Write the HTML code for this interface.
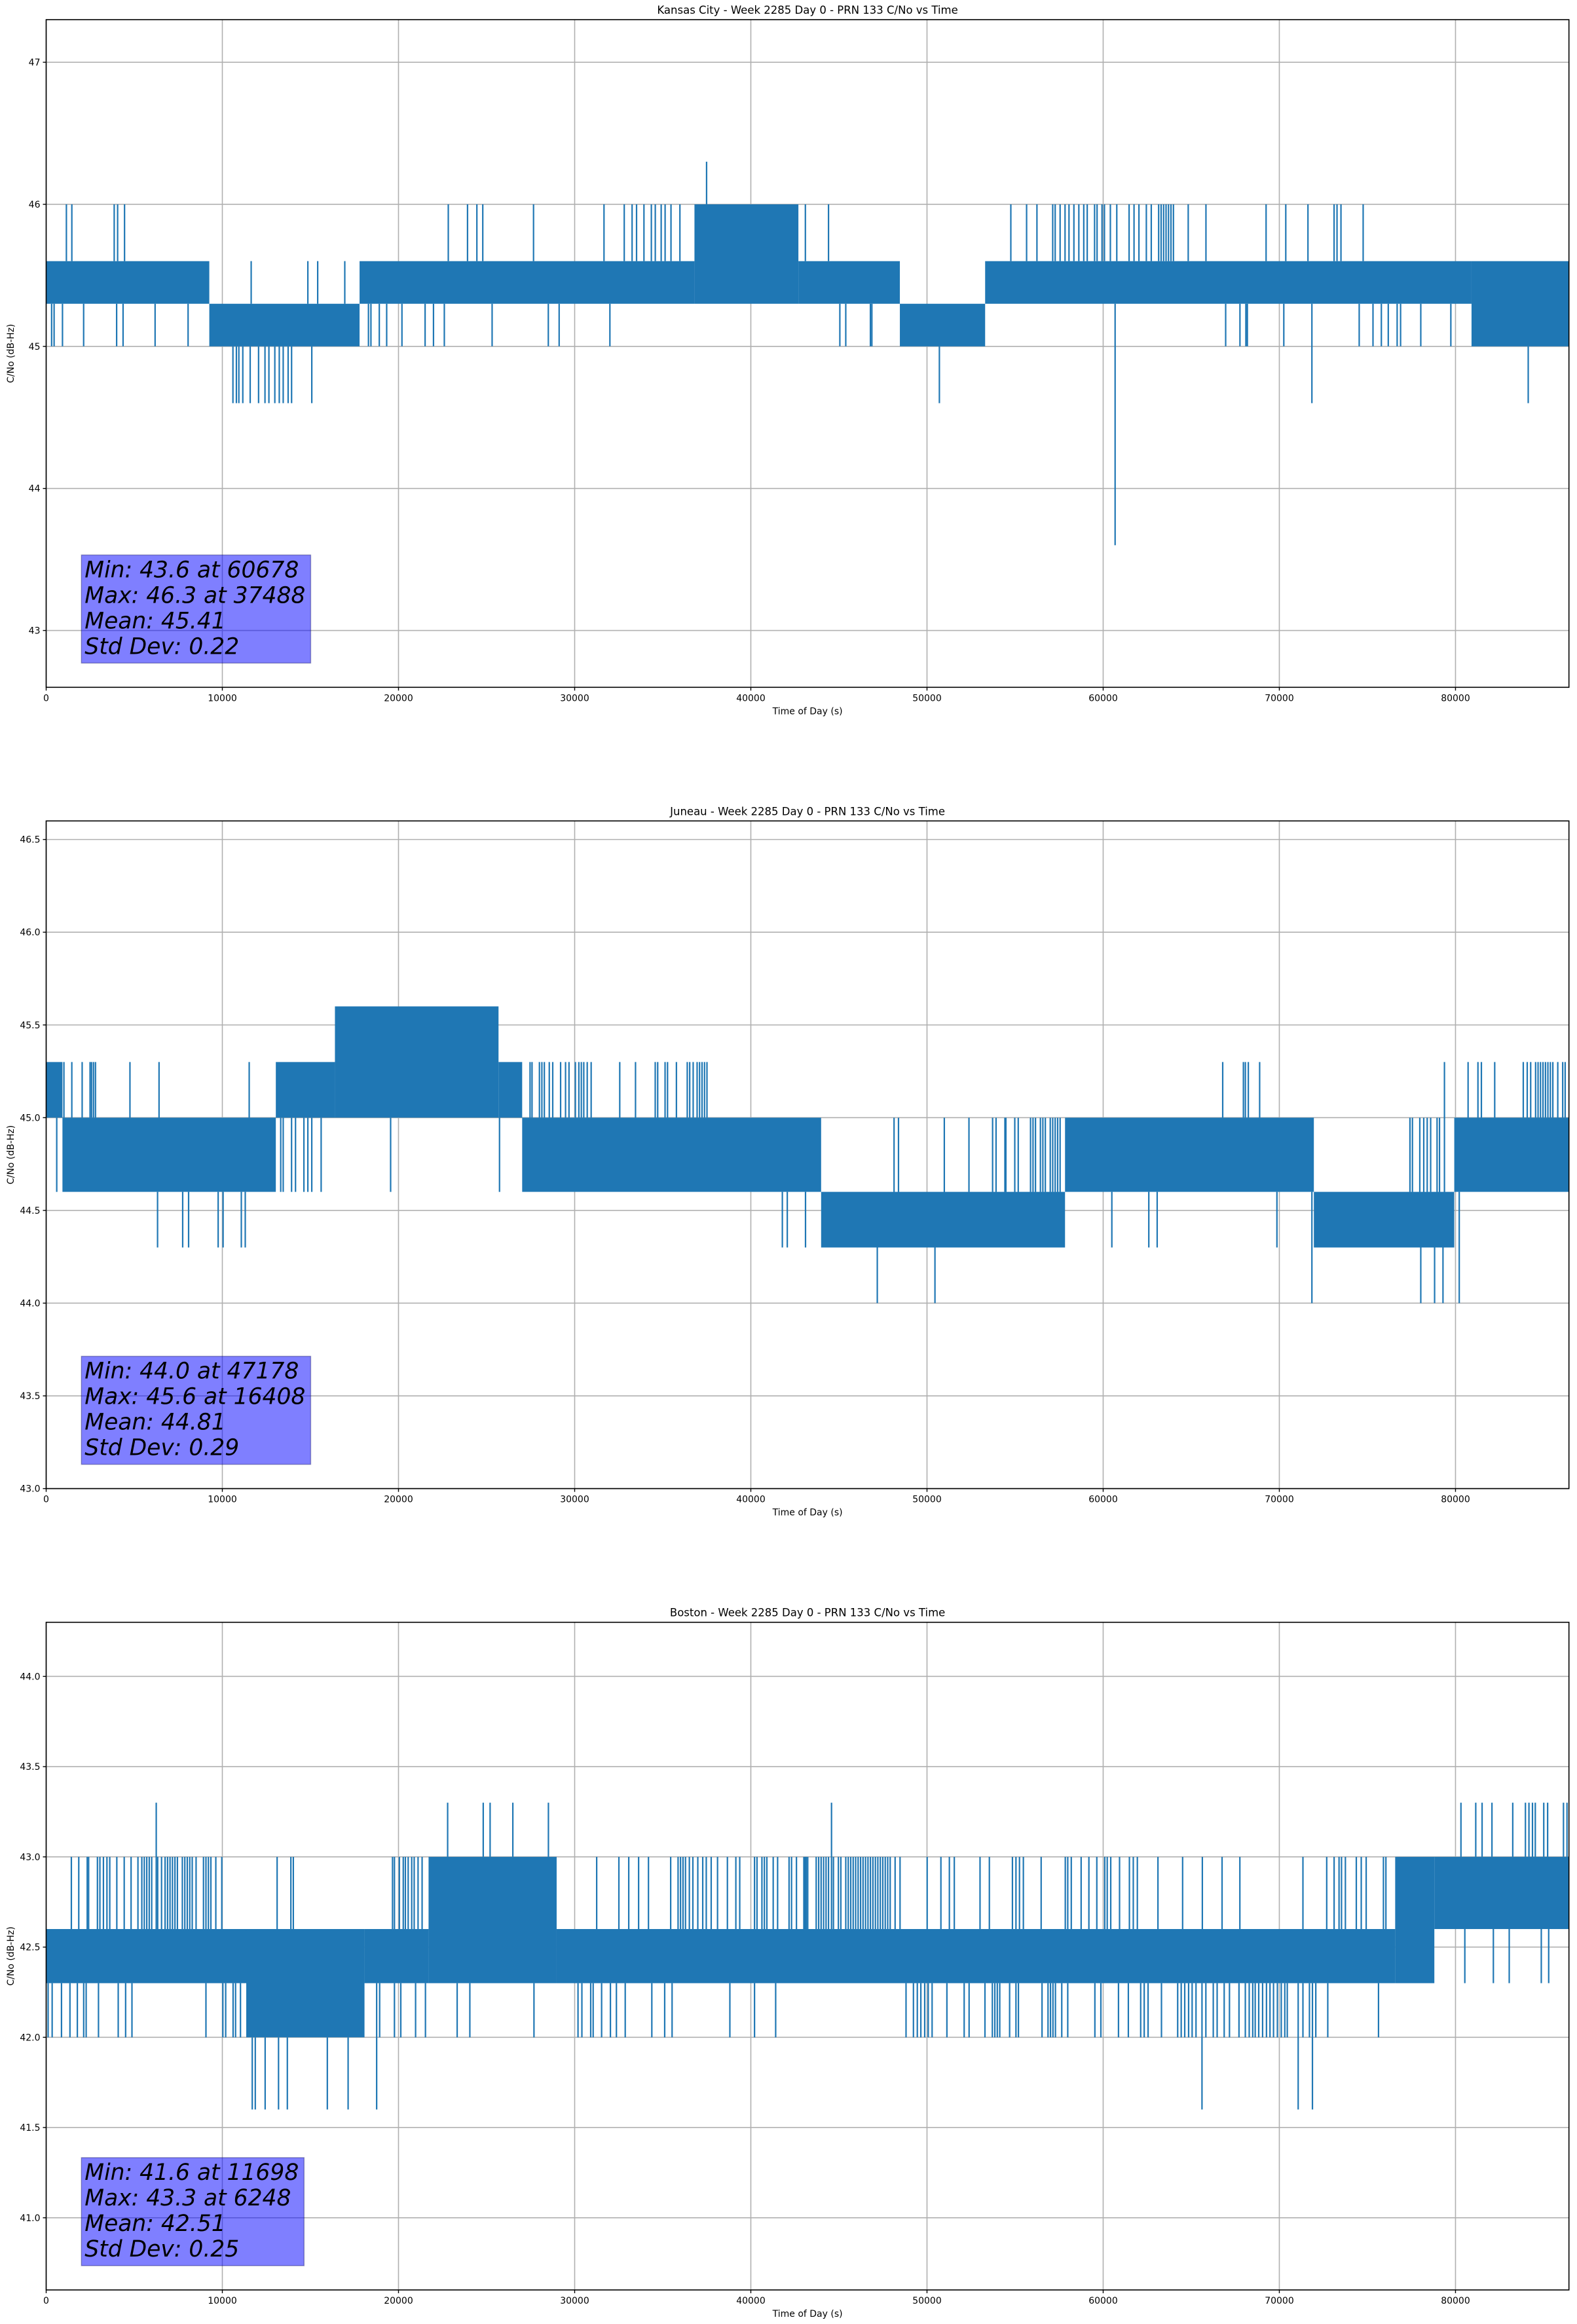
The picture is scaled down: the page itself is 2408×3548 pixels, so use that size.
<!DOCTYPE html>
<html><head><meta charset="utf-8">
<style>
html,body{margin:0;padding:0;background:#fff;}
svg{display:block;}
text{font-family:"DejaVu Sans","Liberation Sans",sans-serif;}
</style></head>
<body>
<svg id="fig" width="2408" height="3548" viewBox="0 0 2408 3548" xmlns="http://www.w3.org/2000/svg"></svg>
<script>
// ---------- shared x data ----------
const xTicks = [0,10000,20000,30000,40000,50000,60000,70000,80000];
const xMax = 86440;

// ---------- Kansas City ----------
const kcTitle = "Kansas City - Week 2285 Day 0 - PRN 133 C/No vs Time";
const kcYLim = [42.6, 47.3];
const kcYTicks = [43,44,45,46,47];
const kcYLabels = ["43","44","45","46","47"];
const kcSegStart = [0,9260,17790,36800,42700,48460,53300,80910];
const kcSegEnd   = [9260,17790,36800,42700,48460,53300,80910,86440];
const kcSegLow   = [45.3,45.0,45.3,45.3,45.3,45.0,45.3,45.0];
const kcSegHigh  = [45.6,45.3,45.6,46.0,45.6,45.3,45.6,45.6];
const kcSpikeT = [1148,1457,3862,4056,4449,22826,23918,24449,24784,27665,31665,32814,33260,33513,33933,34353,34576,34911,35134,35468,35974,37488,
 309,450,926,2127,4000,4365,6183,8056,
 10602,10798,10938,11162,11581,12057,12421,12644,12980,13232,13455,13735,13931,15078,
 11637,14854,15413,16951,
 18295,18435,18910,19329,20196,21510,21986,22601,25314,28504,29119,32000,
 43096,44410,54759,55654,56241,57137,57276,57556,57836,58060,58339,58619,58899,59095,59514,59654,59934,60073,60409,60773,61472,61752,62031,62451,62731,63150,63290,63430,63570,63710,63849,63989,64828,65835,69248,70366,71625,73108,73275,73499,74758,
 45053,45389,46788,46871,66954,67765,68101,68185,70254,74534,75317,75792,76184,76688,76883,78030,79736,
 50703,60678,71849,84128];
const kcSpikeV = [46,46,46,46,46,46,46,46,46,46,46,46,46,46,46,46,46,46,46,46,46,46.3,
 45,45,45,45,45,45,45,45,
 44.6,44.6,44.6,44.6,44.6,44.6,44.6,44.6,44.6,44.6,44.6,44.6,44.6,44.6,
 45.6,45.6,45.6,45.6,
 45,45,45,45,45,45,45,45,45,45,45,45,
 46,46,46,46,46,46,46,46,46,46,46,46,46,46,46,46,46,46,46,46,46,46,46,46,46,46,46,46,46,46,46,46,46,46,46,46,46,46,46,46,46,
 45,45,45,45,45,45,45,45,45,45,45,45,45,45,45,45,45,
 44.6,43.6,44.6,44.6];
const kcStats = ["Min: 43.6 at 60678","Max: 46.3 at 37488","Mean: 45.41","Std Dev: 0.22"];

// ---------- Juneau ----------
const juTitle = "Juneau - Week 2285 Day 0 - PRN 133 C/No vs Time";
const juYLim = [43.0, 46.6];
const juYTicks = [43.0,43.5,44.0,44.5,45.0,45.5,46.0,46.5];
const juYLabels = ["43.0","43.5","44.0","44.5","45.0","45.5","46.0","46.5"];
const juSegStart = [0,924,13036,16392,25678,27020,43990,57835,71960,79930];
const juSegEnd   = [924,13036,16392,25678,27020,43990,57835,71960,79930,86440];
const juSegLow   = [45.0,44.6,45.0,45.0,45.0,44.6,44.3,44.6,44.3,44.6];
const juSegHigh  = [45.3,45.0,45.3,45.6,45.3,45.0,44.6,45.0,44.6,45.0];
const juSpikeT = [1008,1456,2043,2491,2575,2687,2799,4756,6407,11525,27468,27580,28000,28139,28279,28559,28755,29202,29482,29678,30041,30237,30377,30517,30713,30936,32559,33454,34573,34713,35132,35272,35776,36391,36531,36727,36951,37090,37230,37370,37510,
 79373,80715,81275,81470,82226,83848,84072,84268,84547,84687,84827,84967,85107,85246,85386,85526,85806,86085,86225,66786,67960,68072,68240,68883,
 48130,48382,50983,52382,53724,53920,54423,54479,54983,55179,55878,56018,56158,56438,56577,56717,56997,57137,57276,57416,57556,77415,77555,77974,78198,78394,78590,78954,79093,
 47178,50452,71849,78030,78814,79290,80213,
 6323,7749,8085,9763,10043,11078,11301,41789,42069,43104,60493,62591,63066,69864,
 13315,13455,13930,14154,14630,14854,15077,15609,19553,25734, 600];
const juSpikeV = [45.3,45.3,45.3,45.3,45.3,45.3,45.3,45.3,45.3,45.3,45.3,45.3,45.3,45.3,45.3,45.3,45.3,45.3,45.3,45.3,45.3,45.3,45.3,45.3,45.3,45.3,45.3,45.3,45.3,45.3,45.3,45.3,45.3,45.3,45.3,45.3,45.3,45.3,45.3,45.3,45.3,
 45.3,45.3,45.3,45.3,45.3,45.3,45.3,45.3,45.3,45.3,45.3,45.3,45.3,45.3,45.3,45.3,45.3,45.3,45.3,45.3,45.3,45.3,45.3,45.3,
 45,45,45,45,45,45,45,45,45,45,45,45,45,45,45,45,45,45,45,45,45,45,45,45,45,45,45,45,45,
 44,44,44,44,44,44,44,
 44.3,44.3,44.3,44.3,44.3,44.3,44.3,44.3,44.3,44.3,44.3,44.3,44.3,44.3,
 44.6,44.6,44.6,44.6,44.6,44.6,44.6,44.6,44.6,44.6, 44.6];
const juStats = ["Min: 44.0 at 47178","Max: 45.6 at 16408","Mean: 44.81","Std Dev: 0.29"];

// ---------- Boston ----------
const boTitle = "Boston - Week 2285 Day 0 - PRN 133 C/No vs Time";
const boYLim = [40.6, 44.3];
const boYTicks = [41.0,41.5,42.0,42.5,43.0,43.5,44.0];
const boYLabels = ["41.0","41.5","42.0","42.5","43.0","43.5","44.0"];
const boSegStart = [0,11357,18070,21707,28977,76576,78800];
const boSegEnd   = [11357,18070,21707,28977,76576,78800,86440];
const boSegLow   = [42.3,42.0,42.3,42.3,42.3,42.3,42.6];
const boSegHigh  = [42.6,42.6,42.6,43.0,42.6,43.0,43.0];
// spike times grouped by spike level
const boSpike430T = [1430,1850,2330,2410,2910,3050,3250,3450,3610,4010,4430,4820,5210,5430,5570,5710,5850,5990,6330,6550,6750,6890,7030,7170,7310,7450,7730,7870,8010,8150,8290,8510,8930,9070,9210,9350,9630,9970,13110,13890,14030,19660,19770,20050,20270,20390,20550,20750,20890,21110,21340,31250,32510,33070,33630,34190,35450,35870,36010,36150,36290,36510,36710,36990,37270,37470,37750,38110,38670,39150,39370,40210,40350,40630,40770,40910,41270,41520,42170,42310,42590,43090,43230,
 43010,43150,43710,43850,43990,44130,44270,44410,44690,44970,45110,45390,45530,45670,45810,45950,46090,46230,46370,46510,46650,46790,46930,47070,47210,47350,47490,47630,47770,47910,48190,48470,50010,50790,51270,51550,53010,53540,54850,55050,55250,55470,56480,57850,57990,58190,58750,59190,59640,60090,60230,60430,60930,61490,61710,61940,63110,64510,65630,66750,67760,71340,72690,73110,73390,73530,73750,74370,74650,74930,75910,76050];
const boSpike433T = [6248,22790,24810,25200,26490,28510,44580,80310,81150,81510,82070,83250,83970,84170,84370,84530,85010,85230,86130,86330];
const boSpike420T = [110,340,870,1350,1770,2130,2270,2970,4090,4510,4870,9070,10030,10190,10610,10750,11030,18930,19770,20130,20970,21530,23330,24050,27690,30190,30410,30910,31050,31530,32030,32370,32870,34380,35110,35530,38810,40210,41410,
 48810,49230,49450,49650,49870,50070,50290,51130,52110,52390,53290,53710,53850,53990,54130,54690,55050,55190,56530,56870,57010,57150,57290,57650,57990,59530,59870,60870,61430,62130,62330,62550,63310,64230,64430,64630,64850,65050,65270,65830,66250,66470,66870,67170,67710,68070,68290,68490,68630,68830,69050,69270,69470,69670,69890,70110,70310,70450,71340,71710,72070,72750,75630];
const boSpike416T = [11698,11870,12430,13190,13690,15960,17140,18760,65610,71070,71880];
const boSpike423T = [80530,82150,83050,84870,85290];
const boSpikeLevels = [43.0,43.3,42.0,41.6,42.3];
const boStats = ["Min: 41.6 at 11698","Max: 43.3 at 6248","Mean: 42.51","Std Dev: 0.25"];

const boGroups = [boSpike430T, boSpike433T, boSpike420T, boSpike416T, boSpike423T];
const boSpikeT = [], boSpikeV = [];
boGroups.forEach((arr, gi) => { arr.forEach(t => { boSpikeT.push(t); boSpikeV.push(boSpikeLevels[gi]); }); });

// ---------- layout ----------
const NS = "http://www.w3.org/2000/svg";
const svg = document.getElementById('fig');
const L = 70.5, R = 2395.7, H = 1019.3;
const tops = [30, 1253.3, 2476.7];
const BLUE = "#1f77b4";

function mk(tag, attrs, parent){
  const e = document.createElementNS(NS, tag);
  for (const k in attrs) e.setAttribute(k, attrs[k]);
  (parent||svg).appendChild(e);
  return e;
}

function drawPanel(idx, key, title, yLim, yTicks, yLabels, segS, segE, segL, segH, spT, spV, stats){
  const top = tops[idx], bot = top + H;
  const xS = t => L + (t / xMax) * (R - L);
  const yS = v => bot - (v - yLim[0]) / (yLim[1] - yLim[0]) * H;
  const g = mk('g', {});
  
  

  const grid = mk('g', {stroke:'#b0b0b0','stroke-width':'1.6'}, g);
  
  
  xTicks.forEach(t => { mk('line', {x1:xS(t), x2:xS(t), y1:top, y2:bot}, grid); });
  yTicks.forEach(v => { mk('line', {x1:L, x2:R, y1:yS(v), y2:yS(v)}, grid); });

  const series = mk('g', {fill:BLUE, stroke:BLUE}, g);
  
  
  for (let i = 0; i < segS.length; i++){
    const r = mk('rect', {x:xS(segS[i]), y:yS(segH[i]), width:Math.max(1, xS(segE[i]) - xS(segS[i])), height:yS(segL[i]) - yS(segH[i]), stroke:'none'}, series);
    
    
  }
  for (let i = 0; i < spT.length; i++){
    const t = spT[i], v = spV[i];
    let lo = segL[0], hi = segH[0];
    for (let j = 0; j < segS.length; j++){ if (t >= segS[j] && t <= segE[j]) { lo = segL[j]; hi = segH[j]; break; } }
    const base = v > hi ? hi : (v < lo ? lo : (v - lo < hi - v ? lo : hi));
    const ln = mk('line', {x1:xS(t), x2:xS(t), y1:yS(base), y2:yS(v), 'stroke-width':'2.2'}, series);
    
    
  }

  const sg = mk('g', {}, g);
  
  
  const boxTop = bot - 202, boxBot = bot - 37;
  const bx = xS(2000);
  const rect = mk('rect', {x:bx, y:boxTop, width:350, height:boxBot - boxTop, fill:'rgba(0,0,255,0.5)', stroke:'rgba(0,0,80,0.35)', 'stroke-width':'1.5'}, sg);
  const tx = mk('text', {x:bx + 5, y:boxTop + 34, 'font-size':'34.5', 'font-style':'oblique', fill:'#000'}, sg);
  stats.forEach((s, k) => {
    const ts = mk('tspan', {x:bx + 5, y:boxTop + 34 + k * 39}, tx);
    ts.textContent = s;
  });
  try { const bb = tx.getBBox(); rect.setAttribute('width', (bb.x + bb.width + 8) - bx); } catch(e) {}

  const sp = mk('rect', {x:L, y:top, width:R - L, height:H, fill:'none', stroke:'#000', 'stroke-width':'1.6'}, g);
  
  

  const xa = mk('g', {}, g);
  
  
  xTicks.forEach(t => {
    mk('line', {x1:xS(t), x2:xS(t), y1:bot, y2:bot + 5, stroke:'#000', 'stroke-width':'1.4'}, xa);
    const lb = mk('text', {x:xS(t), y:bot + 21, 'font-size':'14', 'text-anchor':'middle', fill:'#000'}, xa);
    lb.textContent = String(t);
  });
  const xl = mk('text', {x:(L + R) / 2, y:bot + 41, 'font-size':'14', 'text-anchor':'middle', fill:'#000'}, g);
  xl.textContent = 'Time of Day (s)';
  
  

  const ya = mk('g', {}, g);
  
  
  yTicks.forEach((v, k) => {
    mk('line', {x1:L - 5, x2:L, y1:yS(v), y2:yS(v), stroke:'#000', 'stroke-width':'1.4'}, ya);
    const lb = mk('text', {x:L - 9, y:yS(v) + 5, 'font-size':'14', 'text-anchor':'end', fill:'#000'}, ya);
    lb.textContent = yLabels[k];
  });
  const yl = mk('text', {x:0, y:0, 'font-size':'14', 'text-anchor':'middle', fill:'#000', transform:'translate(21,' + (top + H / 2) + ') rotate(-90)'}, g);
  yl.textContent = 'C/No (dB-Hz)';
  
  

  const tt = mk('text', {x:(L + R) / 2, y:top - 9, 'font-size':'16.5', 'text-anchor':'middle', fill:'#000'}, g);
  tt.textContent = title;
  
  
}

drawPanel(0, 'kansas-city', kcTitle, kcYLim, kcYTicks, kcYLabels, kcSegStart, kcSegEnd, kcSegLow, kcSegHigh, kcSpikeT, kcSpikeV, kcStats);
drawPanel(1, 'juneau', juTitle, juYLim, juYTicks, juYLabels, juSegStart, juSegEnd, juSegLow, juSegHigh, juSpikeT, juSpikeV, juStats);
drawPanel(2, 'boston', boTitle, boYLim, boYTicks, boYLabels, boSegStart, boSegEnd, boSegLow, boSegHigh, boSpikeT, boSpikeV, boStats);
</script>
</body></html>
